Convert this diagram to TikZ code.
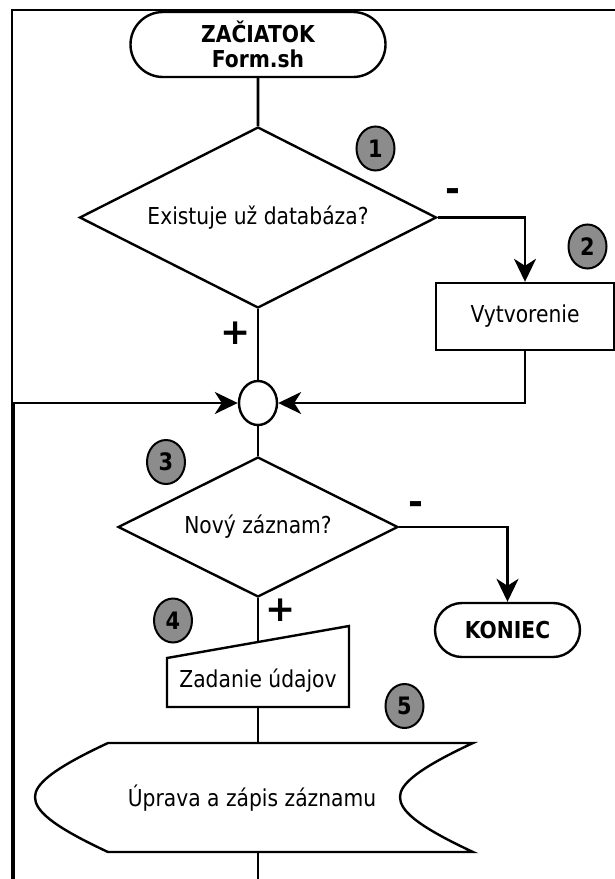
\documentclass[tikz,border=0pt]{standalone}
\usepackage{fontspec}
\setmainfont{DejaVu Sans}[FakeStretch=0.87]
\newfontfamily\signfont{DejaVu Sans}
\usetikzlibrary{positioning}
\usetikzlibrary{shapes.geometric, shapes.misc}
\usetikzlibrary{arrows.meta}
\definecolor{badgegray}{HTML}{8C8C8C}

\begin{document}
\begin{tikzpicture}[x=1pt, y=-1pt,
    every node/.style={font=\fontsize{23.3}{27}\selectfont},
    outline/.style={draw, line width=2.4pt},
    terminal/.style={outline, rounded rectangle, inner sep=2pt, align=center, font=\fontsize{23.3}{25.5}\selectfont\bfseries},
    decision/.style={outline, diamond, aspect=2, inner sep=0pt},
    badge/.style={draw, line width=2pt, ellipse, fill=badgegray, inner sep=0pt, minimum width=38pt, minimum height=44pt, font=\fontsize{24}{24}\selectfont\bfseries},
    sign/.style={font=\signfont\fontsize{36}{36}\selectfont\bfseries, inner sep=0pt},
    flow/.style={line width=2.8pt},
    arrow/.style={flow, -{Stealth[length=23pt, width=22pt, inset=7pt]}}]

    \useasboundingbox (0,0) rectangle (615,879);

    % Frame
    \draw[line width=1.8pt] (12,879) -- (12,10) -- (615,10);

    % Nodes
    \node[terminal, minimum width=259pt, minimum height=65pt] (start) at (258,44.5) {ZAČIATOK\\Form.sh};
    \node[decision, minimum width=357pt, minimum height=181pt] (exists) at (258,217.5) {Existuje už databáza?};
    \node[outline, rectangle, minimum width=178pt, minimum height=67pt] (create) at (525,316.5) {Vytvorenie};
    \node[outline, ellipse, inner sep=0pt, minimum width=38pt, minimum height=44pt] (join) at (258,403) {};
    \node[decision, minimum width=280pt, minimum height=140pt] (newrec) at (258,527) {Nový záznam?};
    \node[terminal, minimum width=149pt, minimum height=54pt] (koniec) at (507.5,630) {KONIEC};
    \node (input) at (258,681) {Zadanie údajov};
    \node (store) at (252,798) {Úprava a zápis záznamu};

    % Input and stored data outlines
    \draw[outline] (167,658) -- (349,626) -- (349,707) -- (167,707) -- cycle;
    \draw[outline] (108,743) -- (473,743)
        .. controls (415,770) and (400,785) .. (400,797)
        .. controls (400,810) and (415,825) .. (473,852)
        -- (108,852)
        .. controls (50,825) and (35,810) .. (35,797)
        .. controls (35,785) and (50,770) .. (108,743) -- cycle;

    \coordinate (inputtop) at (258,642);
    \coordinate (inputbot) at (258,707);
    \coordinate (storetop) at (258,743);
    \coordinate (storebot) at (258,852);
    \coordinate (bottom) at (258,879);
    \coordinate (loopbot) at (14,879);

    % Badges
    \node[badge] (badge1) at (375.5,148.5) {1};
    \node[badge] (badge2) at (587.5,246.5) {2};
    \node[badge] (badge3) at (166,462) {3};
    \node[badge] (badge4) at (173,620.5) {4};
    \node[badge] (badge5) at (404.5,706) {5};

    % Branch signs
    \node[sign] (no1) at (453,195.5) {-};
    \node[sign] (yes1) at (236,333.5) {+};
    \node[sign] (no2) at (416,508) {-};
    \node[sign] (yes2) at (281,610) {+};

    % Connectors
    \draw[flow] (start) -- (exists);
    \draw[arrow] (exists.east) -| (create.north);
    \draw[flow] (exists.south) -- (join.north);
    \draw[arrow] (create.south) |- (join.east);
    \draw[arrow] (loopbot) |- (join.west);
    \draw[flow] (join.south) -- (newrec.north);
    \draw[arrow] (newrec.east) -| (koniec.north);
    \draw[flow] (newrec.south) -- (inputtop);
    \draw[flow] (inputbot) -- (storetop);
    \draw[flow] (storebot) -- (bottom);
\end{tikzpicture}
\end{document}
